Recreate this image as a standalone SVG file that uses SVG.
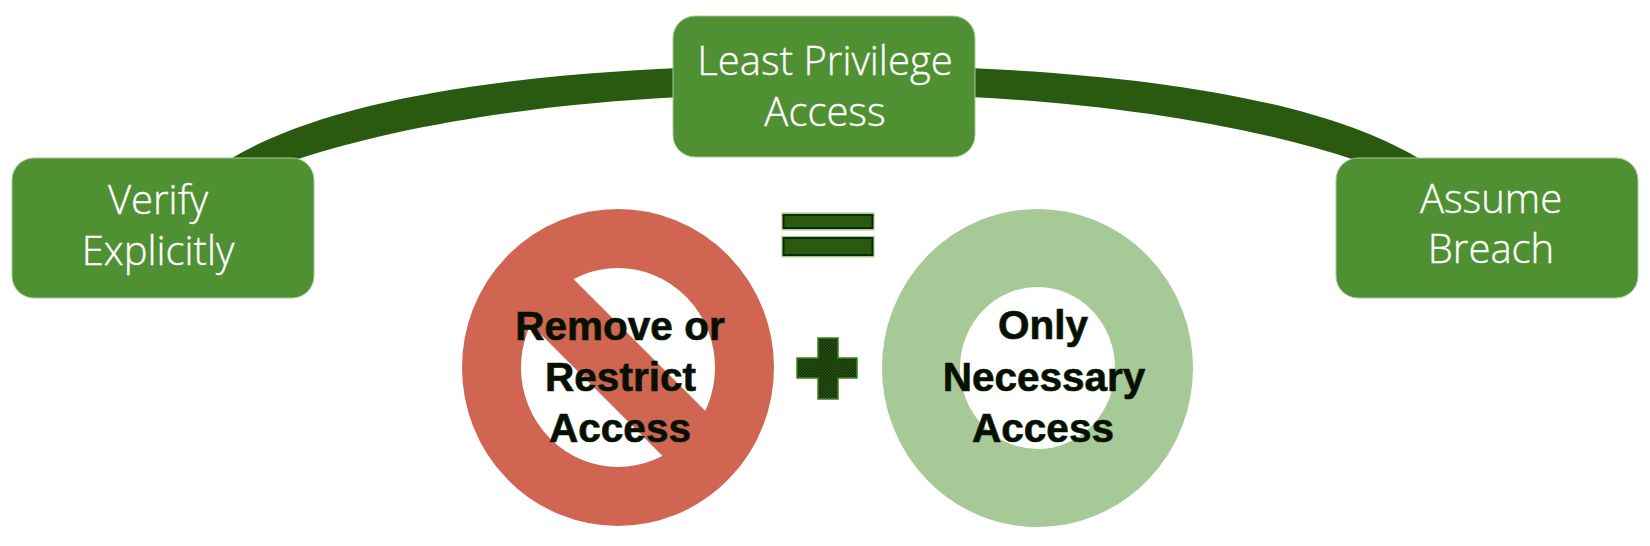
<svg xmlns="http://www.w3.org/2000/svg" width="1650" height="546" viewBox="0 0 1650 546">
<defs>
<pattern id="weave" width="3" height="3" patternUnits="userSpaceOnUse"><rect width="3" height="3" fill="#2a5a10"/><rect width="1.5" height="1.5" fill="#0f2a06"/><rect x="1.5" y="1.5" width="1.5" height="1.5" fill="#0f2a06"/></pattern>
</defs>
<style>
.box{fill:#4f9033;stroke:#a7c997;stroke-width:1}
.wt{font-family:"Open Sans","Liberation Sans",sans-serif;font-weight:300;font-size:40px;fill:#fff;stroke:#fff;stroke-width:.35;text-anchor:middle}
.bk{font-family:"Liberation Sans",Arial,sans-serif;font-weight:700;font-size:40.5px;fill:#060f02;stroke:#0c1f05;stroke-width:.7;text-anchor:middle}
.link{fill:#2a5a10;stroke:none}
.bar{fill:#2a5a10;stroke:#0f2a06;stroke-width:2}
</style>
<rect width="1650" height="546" fill="#fff"/>
<g id="connectors">
<path class="link" d="M232 158C330 100 500 76 680 68L680 97C540 104 400 125 295 160Z"/>
<path class="link" d="M1418 158C1320 100 1150 76 970 68L970 97C1110 104 1250 125 1355 160Z"/>
</g>
<g id="node-verify"><rect class="box" x="12" y="158" width="302" height="140" rx="22"/><text class="wt" x="158" y="214">Verify</text><text class="wt" x="158" y="265">Explicitly</text></g>
<g id="node-least"><rect class="box" x="673" y="16" width="302" height="141" rx="22"/><text class="wt" x="825" y="75">Least Privilege</text><text class="wt" x="825" y="126">Access</text></g>
<g id="node-assume"><rect class="box" x="1336" y="158" width="302" height="140" rx="22"/><text class="wt" x="1491" y="213">Assume</text><text class="wt" x="1491" y="263">Breach</text></g>
<g id="node-equals"><rect x="781.5" y="212.5" width="93" height="18" fill="#a7c997"/><rect x="781.5" y="236" width="93" height="21.500" fill="#a7c997"/><rect class="bar" x="783.500" y="215" width="89" height="13"/><rect class="bar" x="783.500" y="238" width="89" height="17"/></g>
<g id="node-remove">
<ellipse cx="618" cy="367.5" rx="126.500" ry="129" fill="none" stroke="#d06552" stroke-width="59"/>
<line x1="540" y1="289.500" x2="696" y2="445.500" stroke="#d06552" stroke-width="62"/>
<text class="bk" x="620" y="340">Remove or</text><text class="bk" x="620.500" y="391">Restrict</text><text class="bk" x="620" y="442">Access</text></g>
<g id="node-plus"><path d="M818 338H838V358H857V378H838V399H818V378H797V358H818Z" fill="url(#weave)" stroke="#3f7d2a" stroke-width="1.500"/></g>
<g id="node-only">
<ellipse cx="1037.500" cy="368" rx="116.500" ry="120" fill="none" stroke="#a7c997" stroke-width="78"/>
<text class="bk" x="1043" y="339">Only</text><text class="bk" x="1044" y="391">Necessary</text><text class="bk" x="1043" y="442">Access</text></g>
</svg>
